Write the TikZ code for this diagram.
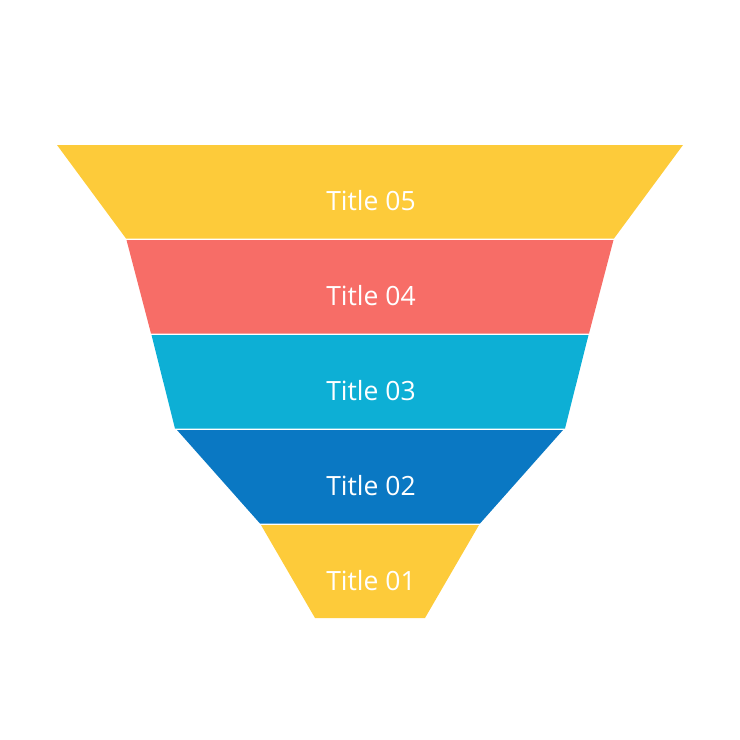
\documentclass[tikz,border=0pt]{standalone}
\usepackage{fontspec}
\setmainfont{Open Sans}
\usepackage{xcolor}
\usetikzlibrary{positioning}

\definecolor{funnelyellow}{RGB}{253,203,58}
\definecolor{funnelred}{RGB}{247,109,103}
\definecolor{funnelcyan}{RGB}{13,175,213}
\definecolor{funnelblue}{RGB}{10,120,195}

\begin{document}
\begin{tikzpicture}[x=1pt, y=-1pt,
  label/.style={text=white, font=\fontsize{26.5}{30}\selectfont, inner sep=0pt, anchor=base}
]
\useasboundingbox (0,0) rectangle (740,740);

% Bands: top y / bottom y / top half width / bottom half width / colour / name / text
\foreach \ytop/\ybot/\wtop/\wbot/\col/\name/\txt in {
  145/238.5/313/244/funnelyellow/five/Title 05,
  240/333.5/243.5/219/funnelred/four/Title 04,
  335/428.5/218.5/195/funnelcyan/three/Title 03,
  430/523.5/193/110/funnelblue/two/Title 02,
  525/618/109/55/funnelyellow/one/Title 01} {
  \fill[\col] (370-\wtop,\ytop) -- (370+\wtop,\ytop) -- (370+\wbot,\ybot) -- (370-\wbot,\ybot) -- cycle;
  \node[label] (\name) at (371,\ytop+65) {\txt};
}

\end{tikzpicture}
\end{document}
